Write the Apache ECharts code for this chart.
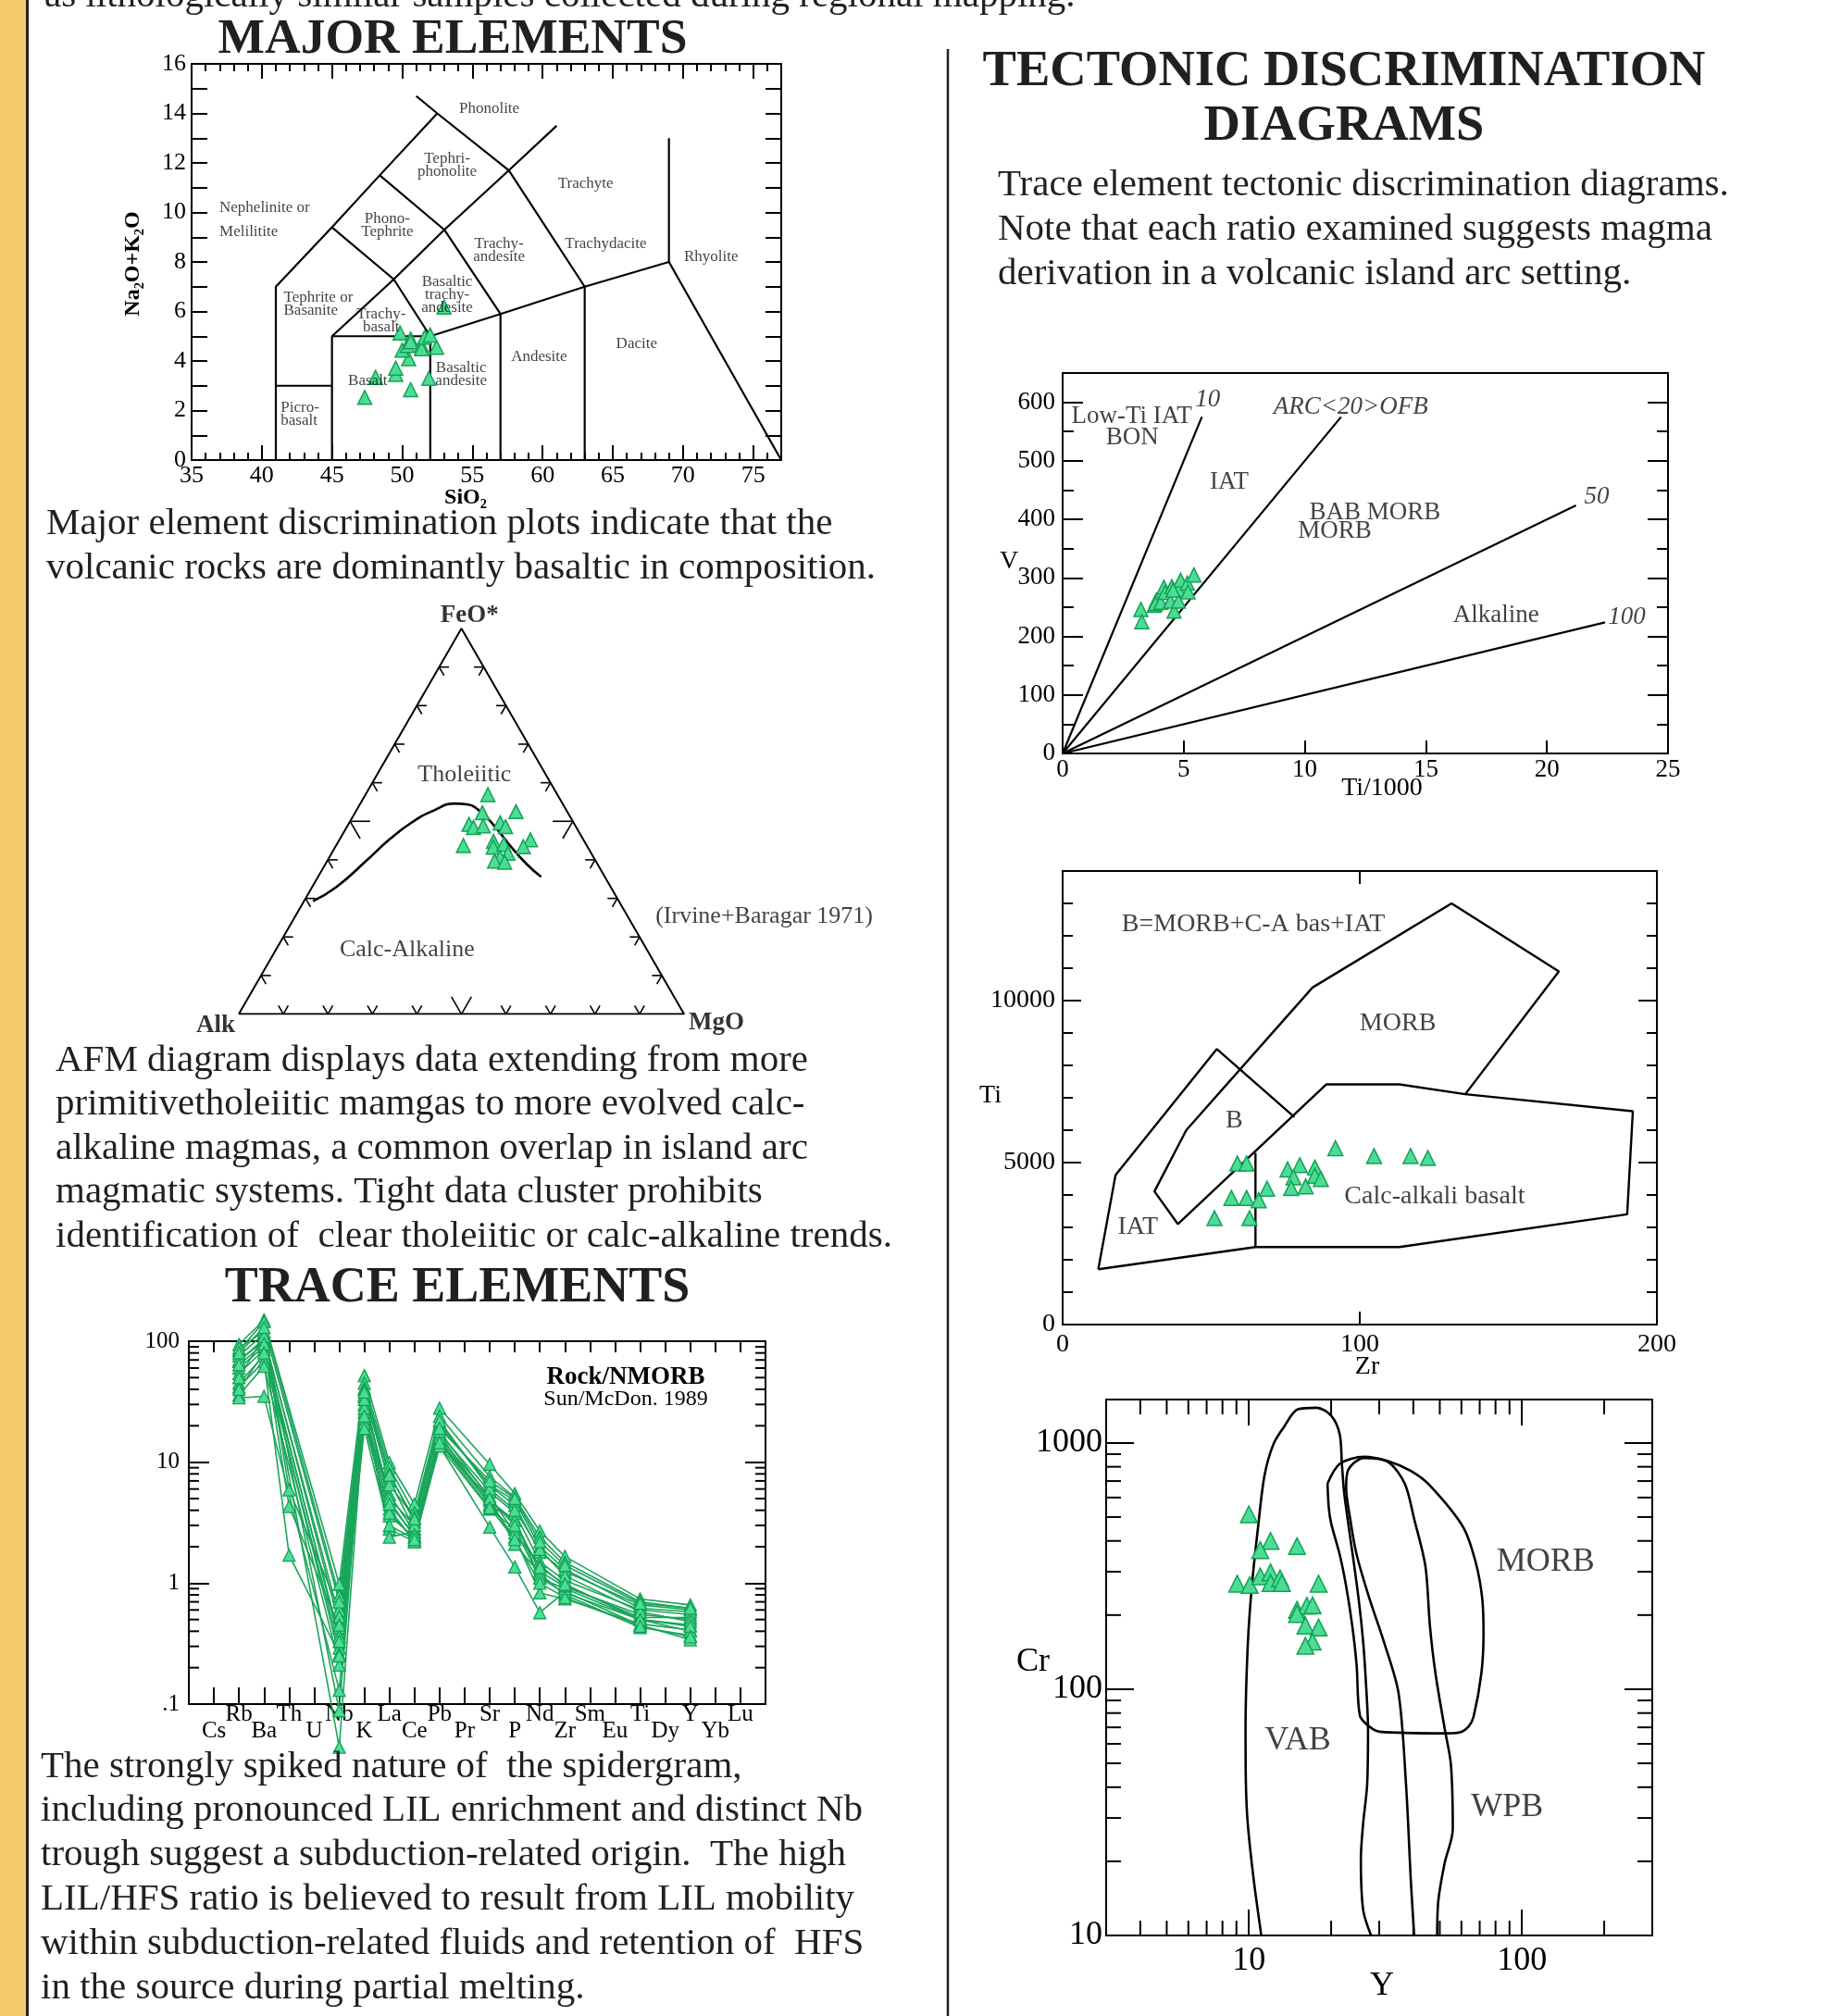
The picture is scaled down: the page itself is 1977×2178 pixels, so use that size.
<!DOCTYPE html>
<html>
<head>
<meta charset="utf-8">
<title>Geochemistry poster panel</title>
<script src="https://cdn.jsdelivr.net/npm/echarts@6/dist/echarts.min.js"></script>
<style>
  html, body { margin: 0; padding: 0; background: #fff; }
  #chart { width: 1977px; height: 2178px; }
</style>
</head>
<body>
<div id="chart"></div>
<script>
const SERIF = '"Liberation Serif", "Times New Roman", serif';
const INK = '#231f20';
const FILL = '#4cdc96';
const EDGE = '#13a255';
const LINE_G = '#1aa55a';

// ---------------- TAS (SiO2 vs Na2O+K2O) ----------------
const tasSamples = [
  [47.33, 2.53], [48.1, 3.34], [49.54, 3.46], [49.54, 3.71], [50.6, 2.84], [51.9, 3.3],
  [52.45, 4.55], [52.98, 6.18], [50.46, 4.09], [50.0, 4.44], [50.37, 4.63], [50.6, 4.88],
  [49.85, 5.13], [51.38, 4.63], [51.38, 4.5], [51.6, 4.96], [51.99, 5.05], [50.6, 4.78]
];
const tasBoundaries = [
  [[41, 0], [41, 7], [45, 9.4], [48.4, 11.5], [52.5, 14], [51, 14.7]],
  [[41, 3], [45, 3]],
  [[45, 0], [45, 5], [52, 5]],
  [[52, 0], [52, 5], [57, 5.9], [63, 7], [69, 8], [77, 0]],
  [[57, 0], [57, 5.9]],
  [[63, 0], [63, 7]],
  [[69, 8], [69, 13]],
  [[45, 5], [49.4, 7.3], [53, 9.3], [57.6, 11.7], [61, 13.5]],
  [[52, 5], [49.4, 7.3], [45, 9.4]],
  [[57, 5.9], [53, 9.3], [48.4, 11.5]],
  [[63, 7], [57.6, 11.7], [52.5, 14]]
];
const tasFields = [
  ['Phonolite', 56.2, 14.19], ['Tephri-\nphonolite', 53.2, 11.92], ['Trachyte', 63.07, 11.17],
  ['Nephelinite or', 36.98, 10.2, 'left'], ['Melilitite', 36.98, 9.22, 'left'],
  ['Phono-\nTephrite', 48.94, 9.47], ['Trachy-\nandesite', 56.9, 8.46], ['Trachydacite', 64.5, 8.72],
  ['Rhyolite', 72.0, 8.2], ['Tephrite or\nBasanite', 41.56, 6.29, 'left'],
  ['Basaltic\ntrachy-\nandesite', 53.2, 6.69], ['Trachy-\nbasalt', 48.5, 5.61],
  ['Andesite', 59.75, 4.18], ['Dacite', 66.7, 4.68], ['Basaltic\nandesite', 54.2, 3.44],
  ['Basalt', 47.55, 3.18], ['Picro-\nbasalt', 41.35, 1.84, 'left']
];

// ---------------- AFM ternary [Alk, FeO*, MgO] % ----------------
const afmSamples = [
  [15.6, 56.9, 27.5], [19.2, 52.2, 28.6], [11.5, 52.5, 36.0], [23.7, 49.2, 27.1],
  [23.1, 48.4, 28.5], [20.7, 48.8, 30.5], [16.5, 49.6, 33.9], [15.8, 48.6, 35.6],
  [27.7, 43.7, 28.6], [20.4, 44.8, 34.8], [21.2, 43.3, 35.5], [18.5, 44.0, 37.5],
  [11.9, 45.2, 42.9], [14.4, 43.4, 42.2], [18.7, 41.7, 39.6], [21.0, 40.6, 38.4],
  [22.7, 39.7, 37.6], [20.6, 39.4, 40.0]
];
const afmDivide = [
  [68.7, 29.3, 2.0], [61.7, 32.9, 5.4], [51.0, 40.1, 8.9], [43.5, 45.3, 11.2],
  [36.3, 49.7, 14.0], [29.8, 52.8, 17.4], [24.1, 54.6, 21.3], [21.6, 54.4, 24.0],
  [19.8, 53.1, 27.1], [18.4, 49.7, 31.9], [17.3, 44.0, 38.7], [15.9, 38.9, 45.2],
  [14.3, 35.6, 50.1]
];
const afmTickSteps = [10, 20, 30, 40, 50, 60, 70, 80, 90];

// ---------------- Spidergram (Rock/NMORB) ----------------
const spiderCats = [' ', 'Cs', 'Rb', 'Ba', 'Th', 'U', 'Nb', 'K', 'La', 'Ce', 'Pb', 'Pr', 'Sr',
  'P', 'Nd', 'Zr', 'Sm', 'Eu', 'Ti', 'Dy', 'Y', 'Yb', 'Lu', '  '];
const spiderElems = ['Rb', 'Ba', 'Th', 'Nb', 'K', 'La', 'Ce', 'Pb', 'Sr', 'P', 'Nd', 'Zr', 'Ti', 'Y'];
const spiderSamples = [
  [94, 150, null, 0.98, 52, 9.9, 4.5, 28, 9.6, 5.5, 2.7, 1.66, 0.74, 0.66],
  [84, 145, null, 0.78, 45, 9.0, 3.8, 24, 7.6, 5.1, 2.4, 1.49, 0.70, 0.62],
  [76, 115, 5.9, 0.60, 41, 8.1, 3.2, 21, 6.4, 4.4, 1.8, 1.25, 0.66, 0.60],
  [68, 105, null, 0.53, 36, 7.0, 2.8, 17.3, 5.7, 3.8, 1.5, 1.05, 0.60, 0.55],
  [60, 90, 4.3, 0.43, 30, 5.4, 2.65, 15.3, 4.8, 3.3, 1.25, 0.93, 0.55, 0.50],
  [54, 85, null, 0.36, 26, 4.8, 2.4, 13.6, 4.1, 2.8, 1.1, 0.83, 0.50, 0.45],
  [45, 76, null, 0.29, 23, 4.1, 2.2, 15, 4.5, 2.4, 0.83, 0.74, 0.46, 0.41],
  [42, 68, 1.7, 0.26, 21, 3.6, 2.4, 14, 5.0, 2.1, 1.2, 0.80, 0.43, 0.37],
  [36, 62, null, 0.21, 19, 2.8, 2.2, 13.6, 2.9, 1.36, 0.57, 0.85, 0.45, 0.34],
  [34, 35, null, 0.13, 30, 2.4, 2.65, 17, 4.4, 3.3, 1.1, 0.90, 0.50, 0.40],
  [88, 120, null, 0.088, 35, 5.0, 3.0, 20, 6.5, 4.8, 2.0, 1.3, 0.62, 0.58],
  [70, 100, null, 0.044, 28, 3.8, 2.3, 16, 5.2, 2.6, 1.4, 0.95, 0.52, 0.52],
  [50, 110, null, 0.45, 40, 6.5, 3.5, 22, 6.0, 4.0, 1.9, 1.15, 0.58, 0.48],
  [64, 95, null, 0.33, 33, 4.5, 2.5, 18, 5.0, 3.0, 1.35, 0.98, 0.50, 0.44],
  [80, 130, null, 0.70, 38, 7.8, 3.4, 19, 7.0, 5.0, 2.2, 1.4, 0.68, 0.62],
  [40, 80, null, 0.25, 24, 3.0, 2.3, 14.5, 4.2, 2.3, 1.0, 0.76, 0.44, 0.36]
];
const spiderMinor = [0.2, 0.3, 0.4, 0.5, 0.6, 0.7, 0.8, 0.9, 2, 3, 4, 5, 6, 7, 8, 9,
  20, 30, 40, 50, 60, 70, 80, 90];

// ---------------- V vs Ti/1000 ----------------
const vSamples = [
  [3.23, 246], [3.27, 225], [3.78, 253], [3.87, 262], [3.83, 256], [4.05, 258],
  [4.18, 284], [4.23, 275], [4.51, 285], [4.45, 260], [4.6, 243], [4.78, 280],
  [4.87, 296], [4.78, 260], [5.15, 291], [5.18, 276], [5.42, 305], [4.56, 279]
];
const vRayEnds = [[5.75, 575], [11.5, 575], [21.2, 424], [22.4, 224]];
const vFields = [
  ['Low-Ti IAT', 2.85, 576], ['BON', 2.88, 539], ['IAT', 6.88, 463],
  ['BAB MORB', 12.9, 412], ['MORB', 11.24, 380], ['Alkaline', 17.9, 236]
];
const vRatioLabels = [['10', 5.99, 605], ['ARC<20>OFB', 11.9, 592], ['50', 22.06, 438], ['100', 23.3, 233]];

// ---------------- Ti vs Zr ----------------
const tiZrSamples = [
  [51.1, 3283], [56.8, 3909], [61.9, 3909], [66.0, 3838], [62.9, 3283], [58.8, 4970],
  [61.9, 4970], [68.8, 4192], [75.7, 4788], [79.8, 4919], [77.7, 4545], [76.9, 4212],
  [81.8, 4263], [84.9, 4848], [84.9, 4596], [86.9, 4495], [91.8, 5444], [104.8, 5202],
  [117.1, 5202], [122.9, 5141]
];
const tiZrBounds = [
  [[12, 1707], [17.8, 4616], [51.9, 8505], [78, 6404]],
  [[12, 1707], [64.9, 2394], [113.3, 2394], [190, 3404], [191.9, 6586], [135.5, 7111],
   [113.3, 7414], [88.7, 7414], [38.8, 3101], [30.9, 4111], [41.6, 6000], [84.1, 10404],
   [130.9, 13000], [167, 10899], [135.5, 7111]],
  [[64.9, 2394], [64.9, 5303]]
];
const tiZrFields = [
  ['B=MORB+C-A bas+IAT', 64.2, 12343], ['MORB', 112.8, 9293], ['B', 57.7, 6283],
  ['Calc-alkali basalt', 125.2, 3960], ['IAT', 25.3, 3020]
];

// ---------------- Cr vs Y (log-log) ----------------
const crySamples = [
  [10.0, 513], [12.0, 400], [11.0, 367], [15.0, 381], [9.06, 268], [10.07, 265],
  [11.0, 287], [12.0, 298], [12.0, 270], [13.0, 282], [13.2, 270], [18.0, 268],
  [15.0, 210], [16.3, 218], [17.1, 219], [15.0, 202], [16.1, 181], [18.0, 178],
  [17.1, 156], [16.1, 150]
];
const cryVAB = [
  [11.1, 10], [10.4, 17], [9.9, 28.5], [9.75, 41], [9.72, 69], [9.9, 150], [10.25, 262],
  [10.8, 455], [11.4, 736], [12.3, 989], [13.4, 1155], [15.1, 1369], [17.7, 1389],
  [20.0, 1290], [21.5, 1085], [21.9, 822], [22.3, 635], [23.1, 472], [24.1, 339],
  [25.2, 234], [26.2, 156], [26.8, 108], [27.3, 69], [27.1, 41], [26.2, 28.5],
  [25.7, 20.5], [26.2, 12.7], [28.0, 10]
];
const cryMORB = [
  [19.4, 684], [21.5, 822], [26.4, 879], [32.3, 844], [39.2, 769], [46.0, 671],
  [60.9, 455], [67.7, 327], [71.5, 234], [72.3, 168], [71.0, 116], [66.5, 77.4],
  [63.7, 70.5], [58.8, 66.7], [52.1, 66.2], [30.1, 67.2], [27.6, 70.5], [25.5, 78],
  [24.8, 125], [23.9, 181], [22.7, 262], [21.5, 352], [20.0, 472], [19.6, 548], [19.4, 684]
];
const cryWPB = [
  [40.3, 10], [39.2, 16.4], [37.6, 41.3], [35.3, 96.6], [31.2, 156], [27.6, 234],
  [24.8, 352], [23.5, 490], [22.7, 659], [23.1, 778], [26.4, 869], [32.3, 838],
  [37.2, 684], [40.3, 490], [44.3, 315], [46.0, 181], [48.2, 116], [52.1, 69.2],
  [54.9, 49.6], [55.8, 27], [52.1, 19.7], [49.4, 13.9], [48.9, 10]
];
const cryXMinor = [4, 5, 6, 7, 8, 9, 20, 30, 40, 50, 60, 70, 80, 90, 200];
const cryYMinor = [20, 30, 40, 50, 60, 70, 80, 90, 200, 300, 400, 500, 600, 700, 800, 900];
const cryFields = [['MORB', 122, 327], ['VAB', 15.1, 62], ['WPB', 88.3, 33]];

// ---------------- text ----------------
const introTail = 'as lithologically similar samples collected during regional mapping.';
const majorText = [
  'Major element discrimination plots indicate that the',
  'volcanic rocks are dominantly basaltic in composition.'
];
const afmText = [
  'AFM diagram displays data extending from more',
  'primitivetholeiitic mamgas to more evolved calc-',
  'alkaline magmas, a common overlap in island arc',
  'magmatic systems. Tight data cluster prohibits',
  'identification of  clear tholeiitic or calc-alkaline trends.'
];
const spiderText = [
  'The strongly spiked nature of  the spidergram,',
  'including pronounced LIL enrichment and distinct Nb',
  'trough suggest a subduction-related origin.  The high',
  'LIL/HFS ratio is believed to result from LIL mobility',
  'within subduction-related fluids and retention of  HFS',
  'in the source during partial melting.'
];
const tectText = [
  'Trace element tectonic discrimination diagrams.',
  'Note that each ratio examined suggests magma',
  'derivation in a volcanic island arc setting.'
];

// ---------------- helpers ----------------
const H = Math.sqrt(3) / 2;
const BODY = 41;
function tern(p) {
  const s = p[0] + p[1] + p[2];
  return [(p[2] + p[1] / 2) / s, (p[1] / s) * H];
}
function plain(v) { return String(Math.round(v)); }
function axLine() { return { show: true, onZero: false, lineStyle: { color: '#000', width: 2 } }; }
function ticks(len, extra) {
  return Object.assign({ show: true, inside: true, length: len, lineStyle: { color: '#000', width: 2 } }, extra || {});
}
function minor(split, len) {
  return { show: true, splitNumber: split, length: len, lineStyle: { color: '#000', width: 2 } };
}
function labels(size, margin, extra) {
  return Object.assign({ show: true, color: '#000', fontFamily: SERIF, fontSize: size, margin: margin }, extra || {});
}
const OFF = { show: false };

function lineSeries(xi, yi, pts, width, smooth) {
  return {
    type: 'line', xAxisIndex: xi, yAxisIndex: yi, data: pts, symbol: 'none', silent: true,
    smooth: smooth || false, lineStyle: { color: '#000', width: width || 2.2 }, z: 3
  };
}
function triScatter(xi, yi, pts, size) {
  return {
    type: 'scatter', xAxisIndex: xi, yAxisIndex: yi, data: pts, symbol: 'triangle',
    symbolSize: size, silent: true, clip: false, z: 6,
    itemStyle: { color: FILL, borderColor: EDGE, borderWidth: 1.5, opacity: 1 }
  };
}
function labelSeries(xi, yi, items, size, extra) {
  return {
    type: 'scatter', xAxisIndex: xi, yAxisIndex: yi, silent: true, symbolSize: 1, clip: false, z: 7,
    itemStyle: { color: 'rgba(0,0,0,0)' },
    data: items.map(function (d) {
      return { name: d[0], value: [d[1], d[2]], label: { align: d[3] || 'center' } };
    }),
    label: Object.assign({
      show: true, position: 'inside', formatter: '{b}', color: '#111',
      fontFamily: SERIF, fontSize: size
    }, extra || {})
  };
}
// short tick marks: [x, y, dxPx, dyPx]
function tickMarks(xi, yi, items) {
  return {
    type: 'custom', xAxisIndex: xi, yAxisIndex: yi, silent: true, clip: false, z: 4,
    data: items,
    renderItem: function (params, api) {
      const p = api.coord([api.value(0), api.value(1)]);
      return {
        type: 'line',
        shape: { x1: p[0], y1: p[1], x2: p[0] + api.value(2), y2: p[1] + api.value(3) },
        style: { stroke: '#000', lineWidth: 2 }
      };
    }
  };
}
// segments in data space: [x1, y1, x2, y2]
function segments(xi, yi, items) {
  return {
    type: 'custom', xAxisIndex: xi, yAxisIndex: yi, silent: true, clip: false, z: 4,
    data: items,
    renderItem: function (params, api) {
      const a = api.coord([api.value(0), api.value(1)]);
      const b = api.coord([api.value(2), api.value(3)]);
      return { type: 'line', shape: { x1: a[0], y1: a[1], x2: b[0], y2: b[1] }, style: { stroke: '#000', lineWidth: 1.6 } };
    }
  };
}
function yMinorTicks(xLo, xHi, vals, len) {
  const out = [];
  vals.forEach(function (v) { out.push([xLo, v, len, 0]); out.push([xHi, v, -len, 0]); });
  return out;
}
function xMinorTicks(yLo, yHi, vals, len) {
  const out = [];
  vals.forEach(function (v) { out.push([v, yLo, 0, -len]); out.push([v, yHi, 0, len]); });
  return out;
}
function txt(x, y, text, size, o) {
  o = o || {};
  const al = o.align || 'center', va = o.valign || 'middle';
  return {
    type: 'text', x: x, y: y, rotation: o.rotation || 0, silent: true, z: 20,
    style: {
      text: text, fill: o.color || INK, fontFamily: SERIF, fontSize: size,
      fontWeight: o.bold ? 'bold' : 'normal', fontStyle: o.italic ? 'italic' : 'normal',
      textAlign: al, align: al, textVerticalAlign: va, verticalAlign: va,
      lineHeight: o.lineHeight || undefined
    }
  };
}

// ---------------- AFM tick chevrons ----------------
const afmTicks = [];
afmTickSteps.forEach(function (p) {
  const d = p === 50 ? 4.5 : 2.2;
  const groups = [
    [[100 - p, 0, p], [100 - p - d, d, p], [100 - p, d, p - d]],
    [[100 - p, p, 0], [100 - p - d, p, d], [100 - p, p - d, d]],
    [[0, p, 100 - p], [d, p, 100 - p - d], [d, p - d, 100 - p]]
  ];
  groups.forEach(function (g) {
    const b = tern(g[0]);
    [g[1], g[2]].forEach(function (arm) {
      const e = tern(arm);
      afmTicks.push([b[0], b[1], e[0], e[1]]);
    });
  });
});

// ---------------- series ----------------
const series = [];
// TAS
tasBoundaries.forEach(function (b) { series.push(lineSeries(0, 0, b, 2.2)); });
series.push(triScatter(0, 0, tasSamples, 15));
series.push(labelSeries(0, 0, tasFields, 17, { lineHeight: 14 }));
// AFM
series.push(lineSeries(2, 2, [tern([100, 0, 0]), tern([0, 0, 100]), tern([0, 100, 0]), tern([100, 0, 0])], 2));
series.push(lineSeries(2, 2, afmDivide.map(tern), 2.6, 0.5));
series.push(segments(2, 2, afmTicks));
series.push(triScatter(2, 2, afmSamples.map(tern), 15));
series.push(labelSeries(2, 2, [['Tholeiitic', 0.507, 0.537], ['Calc-Alkaline', 0.378, 0.144],
  ['(Irvine+Baragar 1971)', 1.18, 0.22]], 26));
series.push(labelSeries(2, 2, [['FeO*', 0.518, 0.896], ['Alk', -0.052, -0.025], ['MgO', 1.073, -0.019]], 27,
  { fontWeight: 'bold', color: '#000' }));
// Spidergram
spiderSamples.forEach(function (vals) {
  series.push({
    type: 'line', xAxisIndex: 3, yAxisIndex: 3, silent: true, clip: false, z: 5,
    data: spiderElems.map(function (el, i) { return [el, vals[i]]; }).filter(function (d) { return d[1] != null; }),
    symbol: 'triangle', symbolSize: 13, showSymbol: true,
    lineStyle: { color: LINE_G, width: 1.6 },
    itemStyle: { color: FILL, borderColor: EDGE, borderWidth: 1.3 }
  });
});
series.push(tickMarks(3, 3, yMinorTicks(0, 23, spiderMinor, 11)));
// V vs Ti
vRayEnds.forEach(function (e) { series.push(lineSeries(5, 5, [[0, 0], e], 2.2)); });
series.push(triScatter(5, 5, vSamples, 15));
series.push(labelSeries(5, 5, vFields, 27));
series.push(labelSeries(5, 5, vRatioLabels, 27, { fontStyle: 'italic' }));
// Ti vs Zr
tiZrBounds.forEach(function (b) { series.push(lineSeries(7, 7, b, 2.4)); });
series.push(triScatter(7, 7, tiZrSamples, 16));
series.push(labelSeries(7, 7, tiZrFields, 28));
// Cr vs Y
[cryVAB, cryMORB, cryWPB].forEach(function (c) { series.push(lineSeries(9, 9, c, 2.6, 0.3)); });
series.push(triScatter(9, 9, crySamples, 18));
series.push(labelSeries(9, 9, cryFields, 36));
series.push(tickMarks(9, 9, yMinorTicks(3, 300, cryYMinor, 16).concat(xMinorTicks(10, 1500, cryXMinor, 16))));

// ---------------- axes ----------------
const xAxis = [
  // 0,1 TAS
  { gridIndex: 0, type: 'value', position: 'bottom', min: 35, max: 77, interval: 5, axisLine: axLine(),
    axisTick: ticks(16), minorTick: minor(5, 8), splitLine: OFF, minorSplitLine: OFF,
    axisLabel: labels(26, 4, { showMaxLabel: false }) },
  { gridIndex: 0, type: 'value', position: 'top', min: 35, max: 77, interval: 5, axisLine: axLine(),
    axisTick: ticks(16), minorTick: minor(5, 8), splitLine: OFF, axisLabel: OFF },
  // 2 AFM
  { gridIndex: 1, type: 'value', min: 0, max: 1, show: false },
  // 3,4 spider
  { gridIndex: 2, type: 'category', position: 'bottom', data: spiderCats, boundaryGap: false,
    axisLine: axLine(), axisTick: ticks(18, { interval: 0 }), splitLine: OFF,
    axisLabel: labels(25, 2, { interval: 0, lineHeight: 18,
      formatter: function (v, i) { return (i % 2 === 1 ? '\n' : '') + v.trim(); } }) },
  { gridIndex: 2, type: 'category', position: 'top', data: spiderCats, boundaryGap: false,
    axisLine: axLine(), axisTick: ticks(12, { interval: 0 }), splitLine: OFF, axisLabel: OFF },
  // 5,6 V
  { gridIndex: 3, type: 'value', position: 'bottom', min: 0, max: 25, interval: 5, axisLine: axLine(),
    axisTick: ticks(14), splitLine: OFF, axisLabel: labels(27, 4) },
  { gridIndex: 3, type: 'value', position: 'top', min: 0, max: 25, interval: 5, axisLine: axLine(),
    axisTick: OFF, splitLine: OFF, axisLabel: OFF },
  // 7,8 Ti-Zr
  { gridIndex: 4, type: 'value', position: 'bottom', min: 0, max: 200, interval: 100, axisLine: axLine(),
    axisTick: ticks(14), splitLine: OFF, axisLabel: labels(28, 8) },
  { gridIndex: 4, type: 'value', position: 'top', min: 0, max: 200, interval: 100, axisLine: axLine(),
    axisTick: ticks(14), splitLine: OFF, axisLabel: OFF },
  // 9,10 Cr-Y
  { gridIndex: 5, type: 'log', logBase: 10, position: 'bottom', min: 3, max: 300, axisLine: axLine(),
    axisTick: ticks(28), splitLine: OFF,
    axisLabel: labels(36, 10, { showMinLabel: false, showMaxLabel: false, formatter: plain }) },
  { gridIndex: 5, type: 'log', logBase: 10, position: 'top', min: 3, max: 300, axisLine: axLine(),
    axisTick: ticks(28), splitLine: OFF, axisLabel: OFF }
];
const yAxis = [
  // 0,1 TAS
  { gridIndex: 0, type: 'value', position: 'left', min: 0, max: 16, interval: 2, axisLine: axLine(),
    axisTick: ticks(17), minorTick: minor(2, 17), splitLine: OFF, minorSplitLine: OFF,
    axisLabel: labels(26, 6) },
  { gridIndex: 0, type: 'value', position: 'right', min: 0, max: 16, interval: 2, axisLine: axLine(),
    axisTick: ticks(17), minorTick: minor(2, 17), splitLine: OFF, axisLabel: OFF },
  // 2 AFM
  { gridIndex: 1, type: 'value', min: 0, max: H, show: false },
  // 3,4 spider
  { gridIndex: 2, type: 'log', logBase: 10, position: 'left', min: 0.1, max: 100, axisLine: axLine(),
    axisTick: ticks(22), splitLine: OFF,
    axisLabel: labels(25, 10, { formatter: function (v) { return v < 0.5 ? '.1' : plain(v); } }) },
  { gridIndex: 2, type: 'log', logBase: 10, position: 'right', min: 0.1, max: 100, axisLine: axLine(),
    axisTick: ticks(22), splitLine: OFF, axisLabel: OFF },
  // 5,6 V
  { gridIndex: 3, type: 'value', position: 'left', min: 0, max: 650, interval: 100, axisLine: axLine(),
    axisTick: ticks(22), minorTick: minor(2, 12), splitLine: OFF, minorSplitLine: OFF,
    axisLabel: labels(27, 8, { showMaxLabel: false, formatter: plain }) },
  { gridIndex: 3, type: 'value', position: 'right', min: 0, max: 650, interval: 100, axisLine: axLine(),
    axisTick: ticks(22), minorTick: minor(2, 12), splitLine: OFF, axisLabel: OFF },
  // 7,8 Ti-Zr
  { gridIndex: 4, type: 'value', position: 'left', min: 0, max: 14000, interval: 5000, axisLine: axLine(),
    axisTick: ticks(20), minorTick: minor(5, 11), splitLine: OFF, minorSplitLine: OFF,
    axisLabel: labels(28, 8, { showMaxLabel: false, formatter: plain }) },
  { gridIndex: 4, type: 'value', position: 'right', min: 0, max: 14000, interval: 5000, axisLine: axLine(),
    axisTick: ticks(20), minorTick: minor(5, 11), splitLine: OFF, axisLabel: OFF },
  // 9,10 Cr-Y
  { gridIndex: 5, type: 'log', logBase: 10, position: 'left', min: 10, max: 1500, axisLine: axLine(),
    axisTick: ticks(30), splitLine: OFF, axisLabel: labels(36, 4, { showMaxLabel: false, formatter: plain }) },
  { gridIndex: 5, type: 'log', logBase: 10, position: 'right', min: 10, max: 1500, axisLine: axLine(),
    axisTick: ticks(30), splitLine: OFF, axisLabel: OFF }
];

// ---------------- page text and furniture ----------------
const graphics = [
  { type: 'rect', shape: { x: 0, y: 0, width: 28, height: 2178 }, style: { fill: '#f4c96b' }, silent: true, z: 1 },
  { type: 'rect', shape: { x: 28, y: 0, width: 3, height: 2178 }, style: { fill: INK }, silent: true, z: 1 },
  { type: 'line', shape: { x1: 1024, y1: 53, x2: 1024, y2: 2178 }, style: { stroke: INK, lineWidth: 2.5 }, silent: true, z: 1 },
  txt(48, -28, introTail, BODY, { align: 'left', valign: 'top', lineHeight: 47.6 }),
  txt(489, 43, 'MAJOR ELEMENTS', 53.5, { bold: true }),
  txt(1452, 78, 'TECTONIC DISCRIMINATION', 54.5, { bold: true }),
  txt(1452, 137, 'DIAGRAMS', 54.5, { bold: true }),
  txt(494, 1392, 'TRACE ELEMENTS', 54, { bold: true }),
  txt(50, 543, majorText.join('\n'), BODY, { align: 'left', valign: 'top', lineHeight: 47.2 }),
  txt(60, 1122, afmText.join('\n'), BODY, { align: 'left', valign: 'top', lineHeight: 47.6 }),
  txt(44, 1885, spiderText.join('\n'), BODY, { align: 'left', valign: 'top', lineHeight: 47.8 }),
  txt(1078, 176, tectText.join('\n'), BODY, { align: 'left', valign: 'top', lineHeight: 48 }),
  txt(503, 538, 'SiO\u2082', 24, { bold: true, color: '#000' }),
  txt(144, 285, 'Na\u2082O+K\u2082O', 24, { bold: true, color: '#000', rotation: Math.PI / 2 }),
  txt(676, 1488, 'Rock/NMORB', 27, { bold: true, color: '#000' }),
  txt(676, 1512, 'Sun/McDon. 1989', 24, { color: '#000' }),
  txt(1090, 607, 'V', 28, { color: '#000' }),
  txt(1493, 852, 'Ti/1000', 28, { color: '#000' }),
  txt(1070, 1184, 'Ti', 28, { color: '#000' }),
  txt(1477, 1477, 'Zr', 28, { color: '#000' }),
  txt(1116, 1796, 'Cr', 36, { color: '#000' }),
  txt(1493, 2146, 'Y', 36, { color: '#000' })
];

const chart = echarts.init(document.getElementById('chart'), null, { renderer: 'canvas' });
chart.setOption({
  animation: false,
  backgroundColor: '#ffffff',
  textStyle: { fontFamily: SERIF },
  grid: [
    { left: 207, top: 69, width: 637, height: 428, outerBoundsMode: 'none', containLabel: false },
    { left: 258, top: 679, width: 481, height: 481 * H, outerBoundsMode: 'none', containLabel: false },
    { left: 204, top: 1449, width: 623, height: 392, outerBoundsMode: 'none', containLabel: false },
    { left: 1148, top: 403, width: 654, height: 411, outerBoundsMode: 'none', containLabel: false },
    { left: 1148, top: 941, width: 642, height: 490, outerBoundsMode: 'none', containLabel: false },
    { left: 1195, top: 1512, width: 590, height: 579, outerBoundsMode: 'none', containLabel: false }
  ],
  xAxis: xAxis,
  yAxis: yAxis,
  series: series,
  graphic: { elements: graphics }
});
</script>
</body>
</html>
